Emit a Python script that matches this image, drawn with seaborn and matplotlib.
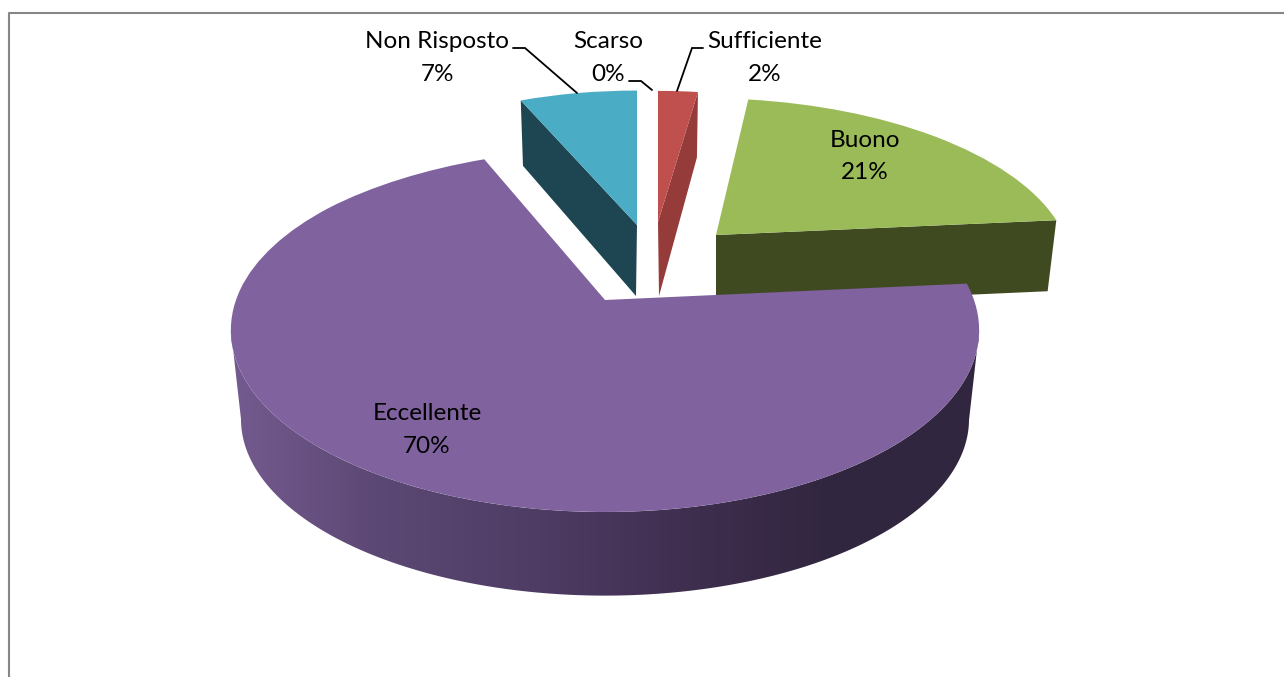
import numpy as np
import matplotlib
matplotlib.use("Agg")
import matplotlib.pyplot as plt
from matplotlib.patches import Polygon
from matplotlib.transforms import Transform
import seaborn as sns

# Data
categories = ["Scarso", "Sufficiente", "Buono", "Eccellente", "Non Risposto"]
shares = [0.0, 2.3, 21.2, 69.9, 6.6]
top_colors = ["#C0504D", "#C0504D", "#9BBB59", "#7F629E", "#4BACC6"]
cut_colors = ["#953B39", "#953B39", "#3F4A21", "#31263F", "#1D4652"]
wall_stops = ["#765C91", "#5C4874", "#4F3D66", "#402F50", "#31263F", "#31263F"]

# Perspective geometry (pixels)
RX, RY, K = 369.0, 177.0, 0.165
# tip x, tip y, x scale, y scale, shear, rear lean
top_geom = {
    "Scarso": (650, 225, .87, .87, 0, 0),
    "Sufficiente": (658, 222, .875, .863, 0, 0),
    "Buono": (716, 235, .944, .90, .08, 0),
    "Eccellente": (605, 300, 1.0, 1.0, 0, 12),
    "Non Risposto": (637, 225, .90, .885, 0, 0),
}
bottom_geom = {
    "Sufficiente": (659, 296, .83, .92, 0, 0),
    "Buono": (716, 306, .92, .90, .08, 0),
    "Eccellente": (605, 390, .973, .97, 0, 0),
    "Non Risposto": (636, 296, .875, .925, 0, 0),
}
draw_order = {"Scarso": 2, "Sufficiente": 2, "Buono": 1, "Eccellente": 4, "Non Risposto": 3}
label_pos = {
    "Non Risposto": (437, 58), "Scarso": (608, 58), "Sufficiente": (765, 58),
    "Buono": (865, 156.5), "Eccellente": (427, 430),
}
leaders = {
    "Non Risposto": ([513, 525, 577], [48, 48, 93]),
    "Scarso": ([629, 641, 652], [81, 81, 90]),
    "Sufficiente": ([703, 692, 677], [48, 48, 91]),
}


def project(X, Y, geom):
    tx, ty, sx, sy, shear, lean = geom
    w = 1 + K * Y
    dx = RX * sx * X / w
    dy = -RY * sy * Y / w
    return tx + dx + shear * dy + lean * np.maximum(Y, 0) ** 4, ty + dy


class DiscProjection(Transform):
    input_dims = 2
    output_dims = 2

    def __init__(self, geom):
        super().__init__()
        self.geom = geom

    def transform_non_affine(self, values):
        values = np.asarray(values, dtype=float)
        x, y = project(values[:, 0], values[:, 1], self.geom)
        return np.column_stack([x, y])


sns.set_theme(style="white")
plt.rcParams["font.family"] = ["Lato", "DejaVu Sans"]

fig = plt.figure(figsize=(12.84, 6.77), dpi=100, facecolor="white")
ax = fig.add_axes([0, 0, 1, 1])

wedges, _ = ax.pie(shares, startangle=90, counterclock=False, colors=top_colors,
                   radius=1.0, wedgeprops=dict(linewidth=0))
ax.set_aspect("auto")

# Slice angles, clockwise from twelve o'clock
edges = np.radians(np.concatenate([[0], np.cumsum(shares)]) * 3.6)

for i, (name, wedge) in enumerate(zip(categories, wedges)):
    wedge.set_transform(DiscProjection(top_geom[name]) + ax.transData)
    z = draw_order[name]
    wedge.set_zorder(z + 0.5)
    if name not in bottom_geom:
        continue
    a0, a1 = edges[i], edges[i + 1]
    if name == "Eccellente":
        # curved outer wall with a horizontal shading ramp: between the two
        # silhouette points of the top face, so the outline never crosses itself
        ang = np.linspace(a0, a1, 400)
        X, Y = np.sin(ang), np.cos(ang)
        xt, yt = project(X, Y, top_geom[name])
        start, stop = int(np.argmax(xt)), int(np.argmin(xt)) + 1
        xt, yt = xt[start:stop], yt[start:stop]
        xb, yb = project(X[start:stop], Y[start:stop], bottom_geom[name])
        outline = np.column_stack([np.r_[xt, xb[::-1]], np.r_[yt, yb[::-1]]])
        cmap = sns.blend_palette(wall_stops, as_cmap=True)
        im = ax.imshow(np.linspace(0, 1, 512)[None, :], cmap=cmap, aspect="auto",
                       extent=(222, 986, 677, 0), zorder=z, interpolation="bilinear")
        clip = Polygon(outline, closed=True, transform=ax.transData)
        im.set_clip_path(clip)
    else:
        # flat cut face that looks towards the viewer
        a = a0 if name == "Non Risposto" else a1
        X, Y = np.sin(a), np.cos(a)
        xt, yt = project(X, Y, top_geom[name])
        xb, yb = project(X, Y, bottom_geom[name])
        tt, tb = top_geom[name], bottom_geom[name]
        ax.fill([tt[0], xt, xb, tb[0]], [tt[1], yt, yb, tb[1]],
                color=cut_colors[i], linewidth=0, zorder=z)

# Data labels
for name, share in zip(categories, shares):
    x, y = label_pos[name]
    ax.text(x, y, f"{name}\n{share:.0f}%", ha="center", va="center", fontsize=17.5,
            color="black", linespacing=1.7, zorder=10)

for name, (lx, ly) in leaders.items():
    ax.plot(lx, ly, color="black", lw=1.3, zorder=9, solid_joinstyle="miter")

# Chart-area frame
ax.plot([8.5, 8.5, 1284], [677, 12.5, 12.5], color="#868686", lw=1.5, zorder=0)

ax.set_xlim(0, 1284)
ax.set_ylim(677, 0)
ax.axis("off")

fig.savefig("out.png", dpi=100, facecolor="white")
